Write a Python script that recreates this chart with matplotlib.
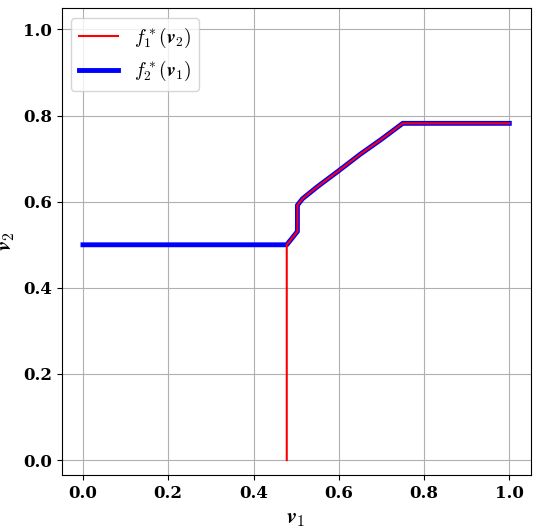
import matplotlib
matplotlib.use('Agg')
import matplotlib.pyplot as plt

plt.rcParams['mathtext.fontset'] = 'cm'
plt.rcParams['font.family'] = 'DejaVu Serif'

# best response curves
v1_f2 = [0.0, 0.478, 0.503, 0.503, 0.515, 0.55, 0.6, 0.65, 0.7, 0.75, 1.0]
v2_f2 = [0.5, 0.5, 0.531, 0.592, 0.607, 0.635, 0.672, 0.71, 0.745, 0.782, 0.782]
v1_f1 = [0.478, 0.478, 0.503, 0.503, 0.515, 0.55, 0.6, 0.65, 0.7, 0.75, 1.0]
v2_f1 = [0.0, 0.5, 0.531, 0.592, 0.607, 0.635, 0.672, 0.71, 0.745, 0.782, 0.782]
ticks = [0.0, 0.2, 0.4, 0.6, 0.8, 1.0]

fig, ax = plt.subplots(figsize=(5.36, 5.28), dpi=100)
ax.plot(v1_f2, v2_f2, color='blue', lw=3.5, label=r'$f_2^*(\boldsymbol{v}_1)$', zorder=2)
ax.plot(v1_f1, v2_f1, color='red', lw=1.5, label=r'$f_1^*(\boldsymbol{v}_2)$', zorder=3)
ax.set_xlim(-0.05, 1.05)
ax.set_ylim(-0.035, 1.05)
ax.set_xticks(ticks)
ax.set_yticks(ticks)
ax.set_xticklabels(['%.1f' % t for t in ticks], fontsize=12, fontweight='bold')
ax.set_yticklabels(['%.1f' % t for t in ticks], fontsize=12, fontweight='bold')
ax.set_xlabel(r'$\boldsymbol{v}_1$', fontsize=16)
ax.set_ylabel(r'$\boldsymbol{v}_2$', fontsize=16)
ax.grid(True, color='#b0b0b0')
ax.set_axisbelow(True)
h, l = ax.get_legend_handles_labels()
ax.legend(h[::-1], l[::-1], loc='upper left', fontsize=14)
fig.subplots_adjust(left=0.115, right=0.99, top=0.985, bottom=0.1)
fig.savefig('out.png')
